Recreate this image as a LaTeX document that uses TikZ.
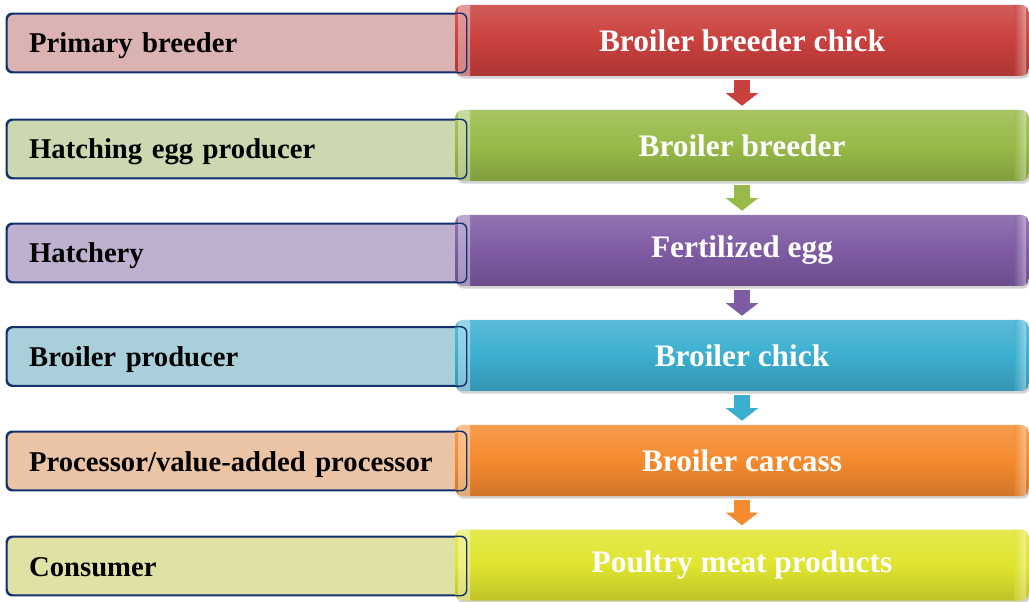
\documentclass[tikz,border=0pt]{standalone}
\usepackage{fontspec}
\setmainfont{Liberation Serif}
\usetikzlibrary{shadows,arrows.meta,calc}

\definecolor{redstep}{HTML}{C9403D}
\definecolor{greenstep}{HTML}{97BA48}
\definecolor{purplestep}{HTML}{7E5BA3}
\definecolor{bluestep}{HTML}{3CAFD0}
\definecolor{orangestep}{HTML}{F58A2E}
\definecolor{yellowstep}{HTML}{E0E52F}
\definecolor{redrole}{HTML}{DCB3B3}
\definecolor{greenrole}{HTML}{CCD8B0}
\definecolor{purplerole}{HTML}{BEB0CE}
\definecolor{bluerole}{HTML}{A9D0DA}
\definecolor{orangerole}{HTML}{EBC3A5}
\definecolor{yellowrole}{HTML}{DFE2A4}
\definecolor{roleline}{HTML}{13306E}

\tikzset{
    rolebox/.style={rectangle, rounded corners=4.5pt, fill=#1, draw=roleline, line width=1.1pt,
        minimum width=344.25pt, minimum height=43.5pt, text width=311pt, inner xsep=16.5pt,
        align=left, font=\fontsize{21.5}{24}\selectfont\bfseries, text=black,
        text height=17.5pt, text depth=2.5pt},
    roleline/.style={draw=roleline, line width=1.1pt, rounded corners=4.5pt},
    stagebox/.style={rectangle, rounded corners=6pt, top color=#1!85!white, bottom color=#1!85!black,
        middle color=#1, minimum width=430.5pt, minimum height=53.25pt,
        font=\fontsize{23.5}{27}\selectfont\bfseries, text=white,
        drop shadow={shadow xshift=1pt, shadow yshift=-2pt, opacity=0.35},
        path picture={
            \shade [left color=white, right color=#1, opacity=0.4]
                ($(path picture bounding box.north west)+(3,10)$) rectangle
                ($(path picture bounding box.south west)+(15,-10)$);
            \shade [right color=white, left color=#1, opacity=0.4]
                ($(path picture bounding box.north east)+(-15,10)$) rectangle
                ($(path picture bounding box.south east)+(-3,-10)$);
        }},
    stagearrow/.style={draw=#1, line width=12pt, -{Triangle[width=24pt, length=9.5pt]},
        shorten <=3pt, shorten >=3pt}
}

\begin{document}
\begin{tikzpicture}[x=0.75pt,y=0.75pt,yscale=-1,xscale=1]
    \useasboundingbox (0,0) rectangle (1029,602);

    % Roles
    \node [rolebox=redrole] (role1) at (236.5,43) {Primary breeder};
    \node [rolebox=greenrole] (role2) at (236.5,149) {Hatching egg producer};
    \node [rolebox=purplerole] (role3) at (236.5,253) {Hatchery};
    \node [rolebox=bluerole] (role4) at (236.5,356.5) {Broiler producer};
    \node [rolebox=orangerole] (role5) at (236.5,461) {Processor/value-added processor};
    \node [rolebox=yellowrole] (role6) at (236.5,566) {Consumer};

    % Stages
    \node [stagebox=redstep] (stage1) at (742,40.5) {Broiler breeder chick};
    \node [stagebox=greenstep] (stage2) at (742,145.5) {Broiler breeder};
    \node [stagebox=purplestep] (stage3) at (742,250.5) {Fertilized egg};
    \node [stagebox=bluestep] (stage4) at (742,355.5) {Broiler chick};
    \node [stagebox=orangestep] (stage5) at (742,460.5) {Broiler carcass};
    \node [stagebox=yellowstep] (stage6) at (742,565) {Poultry meat products};

    % Role outlines over the stage boxes
    \draw [roleline] (role1.south west) rectangle (role1.north east);
    \draw [roleline] (role2.south west) rectangle (role2.north east);
    \draw [roleline] (role3.south west) rectangle (role3.north east);
    \draw [roleline] (role4.south west) rectangle (role4.north east);
    \draw [roleline] (role5.south west) rectangle (role5.north east);
    \draw [roleline] (role6.south west) rectangle (role6.north east);

    % Arrows
    \draw [stagearrow=redstep] (stage1.south) -- (stage2.north);
    \draw [stagearrow=greenstep] (stage2.south) -- (stage3.north);
    \draw [stagearrow=purplestep] (stage3.south) -- (stage4.north);
    \draw [stagearrow=bluestep] (stage4.south) -- (stage5.north);
    \draw [stagearrow=orangestep] (stage5.south) -- (stage6.north);
\end{tikzpicture}
\end{document}
